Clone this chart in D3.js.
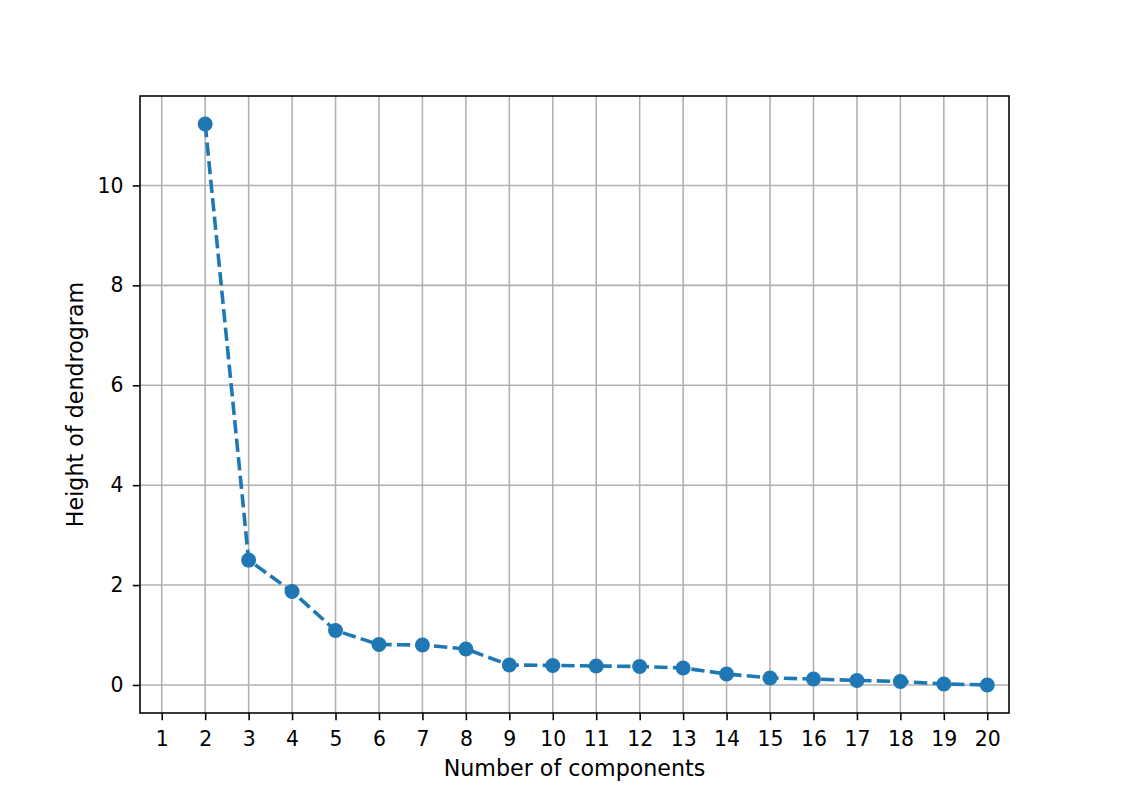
<!DOCTYPE html>
<html><head><meta charset="utf-8">
<script src="https://cdn.jsdelivr.net/npm/d3@7"></script>
<style>body{margin:0;background:#fff}svg{display:block}text{font-family:"DejaVu Sans";fill:#000}</style>
</head><body><svg id="c" width="1121" height="801"></svg>
<script>
const components = [2,3,4,5,6,7,8,9,10,11,12,13,14,15,16,17,18,19,20];
const heights = [11.23,2.50,1.87,1.09,0.81,0.80,0.72,0.40,0.39,0.38,0.37,0.34,0.22,0.14,0.12,0.09,0.07,0.02,0.00];
const xTicks = d3.range(1,21);
const yTicks = [0,2,4,6,8,10];
const xLabel = "Number of components";
const yLabel = "Height of dendrogram";

const svg = d3.select("#c");
const L=140,R=1009,T=96,B=713;
const x = d3.scaleLinear().domain([0.5,20.5]).range([L,R]);
const yMax = 11.23, pad = yMax*0.05;
const y = d3.scaleLinear().domain([-pad, yMax+pad]).range([B,T]);
const fs = 20.4, lfs = 22.2;

const g = svg.append("g");
// grid
g.selectAll(".gx").data(xTicks).enter().append("line")
 .attr("x1",d=>x(d)).attr("x2",d=>x(d)).attr("y1",T).attr("y2",B)
 .attr("stroke","#b0b0b0").attr("stroke-width",1.56);
g.selectAll(".gy").data(yTicks).enter().append("line")
 .attr("y1",d=>y(d)).attr("y2",d=>y(d)).attr("x1",L).attr("x2",R)
 .attr("stroke","#b0b0b0").attr("stroke-width",1.56);

// axes
const xa = svg.append("g").attr("transform",`translate(0,${B})`)
 .call(d3.axisBottom(x).tickValues(xTicks).tickSize(7.2).tickPadding(11).tickFormat(d3.format("d")));
const ya = svg.append("g").attr("transform",`translate(${L},0)`)
 .call(d3.axisLeft(y).tickValues(yTicks).tickSize(7.2).tickPadding(9.3).tickFormat(d3.format("d")));
[xa,ya].forEach(a=>{
  a.select(".domain").remove();
  a.selectAll("line").attr("stroke","#000").attr("stroke-width",1.56);
  a.selectAll("text").attr("font-size",fs).attr("font-family","DejaVu Sans").attr("fill","#000");
});

// line
const line = d3.line().x((d,i)=>x(components[i])).y(d=>y(d));
svg.append("path").datum(heights).attr("d",line).attr("fill","none")
 .attr("stroke","#1f77b4").attr("stroke-width",3.6).attr("stroke-dasharray","13.3,5.3");
svg.selectAll(".pt").data(heights).enter().append("circle")
 .attr("cx",(d,i)=>x(components[i])).attr("cy",d=>y(d)).attr("r",7.5).attr("fill","#1f77b4");

// frame
svg.append("rect").attr("x",L).attr("y",T).attr("width",R-L).attr("height",B-T)
 .attr("fill","none").attr("stroke","#000").attr("stroke-width",1.56);

svg.append("text").attr("x",(L+R)/2).attr("y",776).attr("text-anchor","middle").attr("font-size",lfs).text(xLabel);
svg.append("text").attr("transform",`translate(83,${(T+B)/2}) rotate(-90)`).attr("text-anchor","middle").attr("font-size",lfs).text(yLabel);
</script></body></html>
